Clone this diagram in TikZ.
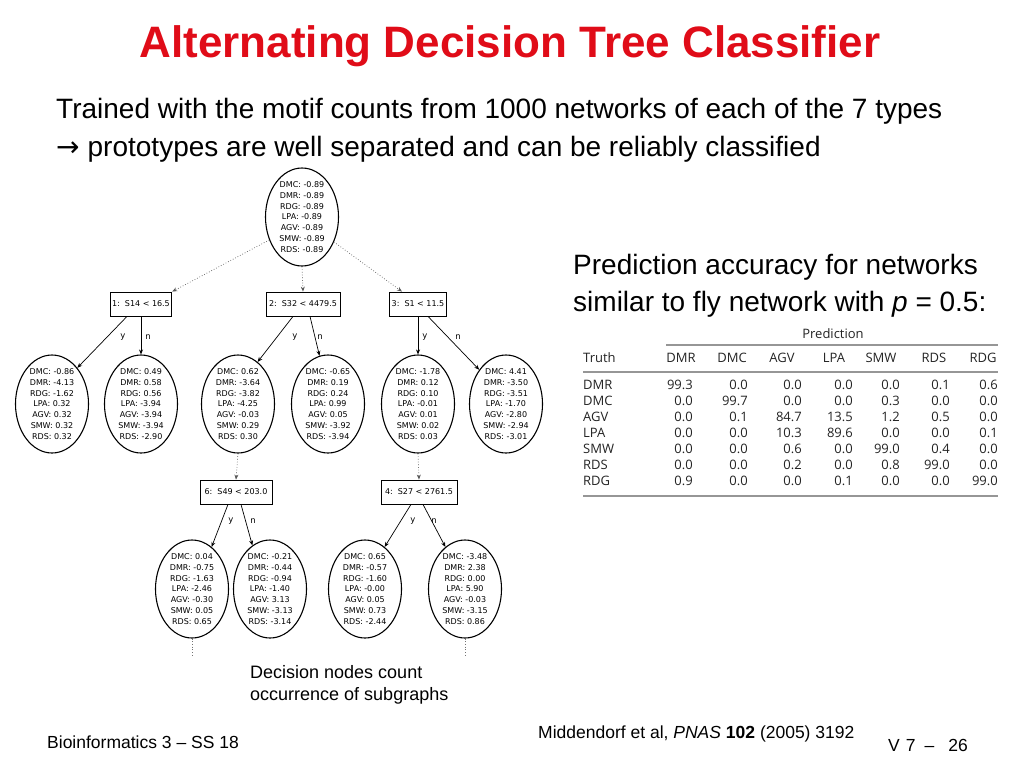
\documentclass[tikz,border=0pt]{standalone}
\usepackage{fontspec}
\setmainfont{Liberation Sans}
\newfontfamily\ellfont{DejaVu Sans}
\newfontfamily\arrfont{DejaVu Sans}
\newfontfamily\tabfont{Open Sans}
\usetikzlibrary{shapes.geometric,arrows.meta}
\definecolor{titlered}{RGB}{224,12,24}
\definecolor{tabgray}{RGB}{35,35,35}
\definecolor{rulegray}{RGB}{150,150,150}
\newcommand\ellvals[7]{DMC: #1\\DMR: #2\\RDG: #3\\LPA: #4\\AGV: #5\\SMW: #6\\RDS: #7}
\newcommand\tabrow[9]{%
  \node[tabtxt, anchor=base west] (row#2) at (583,#1) {#2};
  \node[tabtxt, anchor=base east] (row#2a) at (693,#1) {#3};
  \node[tabtxt, anchor=base east] (row#2b) at (748,#1) {#4};
  \node[tabtxt, anchor=base east] (row#2c) at (802,#1) {#5};
  \node[tabtxt, anchor=base east] (row#2d) at (853,#1) {#6};
  \node[tabtxt, anchor=base east] (row#2e) at (900,#1) {#7};
  \node[tabtxt, anchor=base east] (row#2f) at (950,#1) {#8};
  \node[tabtxt, anchor=base east] (row#2g) at (998,#1) {#9};}
\begin{document}
\begin{tikzpicture}[x=1pt,y=-1pt,
  titletxt/.style={font=\bfseries\fontsize{44}{50}\selectfont, text=titlered, inner sep=0pt, anchor=base},
  bodytxt/.style={font=\fontsize{28}{34}\selectfont, inner sep=0pt, anchor=base west},
  smalltxt/.style={font=\fontsize{18}{22}\selectfont, inner sep=0pt, anchor=base west},
  foottxt/.style={font=\fontsize{17.5}{20}\selectfont, inner sep=0pt, anchor=base west},
  ell/.style={draw, ellipse, line width=1.1pt, minimum width=73pt, minimum height=98pt, inner sep=0pt},
  elltxt/.style={font=\ellfont\fontsize{8}{10.8}\selectfont, align=center, inner sep=0pt},
  dbox/.style={draw, line width=0.8pt, minimum height=24pt, inner xsep=2pt, inner ysep=0pt, font=\ellfont\fontsize{8}{10}\selectfont},
  edge/.style={line width=0.7pt, -{Stealth[length=5pt,width=4pt]}},
  dotedge/.style={edge, dotted, draw=black!65},
  stub/.style={dotted, line width=0.7pt, draw=black!55},
  lbl/.style={font=\ellfont\fontsize{8.5}{10}\selectfont, inner sep=0pt},
  tabtxt/.style={font=\tabfont\fontsize{13}{15}\selectfont, text=tabgray, inner sep=0pt},
  tabrule/.style={draw=rulegray, line width=1.8pt}]
\useasboundingbox (0,0) rectangle (1024,768);

% title and text
\node[titletxt] (title) at (510,58) {Alternating Decision Tree Classifier};
\node[bodytxt] (line1) at (56,118) {Trained with the motif counts from 1000 networks of each of the 7 types};
\node[bodytxt] (line2) at (56,156) {{\arrfont →}\hspace{8pt}prototypes are well separated and can be reliably classified};
\node[bodytxt] (pred1) at (573,274) {Prediction accuracy for networks};
\node[bodytxt] (pred2) at (573,311) {similar to fly network with \textit{p} = 0.5:};
\node[smalltxt] (dec1) at (250,678) {Decision nodes count};
\node[smalltxt] (dec2) at (250,700) {occurrence of subgraphs};
\node[foottxt] (foot1) at (47,748) {Bioinformatics 3 – SS 18};
\node[foottxt] (foot2) at (538,738) {Middendorf et al, \textit{PNAS} \textbf{102} (2005) 3192};
\node[foottxt] (foot3) at (888,751) {V\hspace{6pt}7\hspace{9pt}–\hspace{14pt}26};

% tree: root
\node[ell] (T) at (302,217) {};
\node[elltxt] (Tt) at (T) {\ellvals{-0.89}{-0.89}{-0.89}{-0.89}{-0.89}{-0.89}{-0.89}};

% decision nodes level 1
\node[dbox, minimum width=58pt] (b1) at (141,304) {1:\hspace{5pt}S14 < 16.5};
\node[dbox, minimum width=74pt] (b2) at (303,304) {2:\hspace{5pt}S32 < 4479.5};
\node[dbox, minimum width=56pt] (b3) at (418,304) {3:\hspace{5pt}S1 < 11.5};

% prediction ellipses level 1
\node[ell] (E1) at (52,404) {};
\node[elltxt] (E1t) at (E1) {\ellvals{-0.86}{-4.13}{-1.62}{0.32}{0.32}{0.32}{0.32}};
\node[ell] (E2) at (141,404) {};
\node[elltxt] (E2t) at (E2) {\ellvals{0.49}{0.58}{0.56}{-3.94}{-3.94}{-3.94}{-2.90}};
\node[ell] (E3) at (238,404) {};
\node[elltxt] (E3t) at (E3) {\ellvals{0.62}{-3.64}{-3.82}{-4.25}{-0.03}{0.29}{0.30}};
\node[ell] (E4) at (328,404) {};
\node[elltxt] (E4t) at (E4) {\ellvals{-0.65}{0.19}{0.24}{0.99}{0.05}{-3.92}{-3.94}};
\node[ell] (E5) at (418,404) {};
\node[elltxt] (E5t) at (E5) {\ellvals{-1.78}{0.12}{0.10}{-0.01}{0.01}{0.02}{0.03}};
\node[ell] (E6) at (506,404) {};
\node[elltxt] (E6t) at (E6) {\ellvals{4.41}{-3.50}{-3.51}{-1.70}{-2.80}{-2.94}{-3.01}};

% decision nodes level 2
\node[dbox, minimum width=72pt] (b6) at (236,492) {6:\hspace{5pt}S49 < 203.0};
\node[dbox, minimum width=76pt] (b4) at (419,492) {4:\hspace{5pt}S27 < 2761.5};

% prediction ellipses level 2
\node[ell] (F1) at (192,589) {};
\node[elltxt] (F1t) at (F1) {\ellvals{0.04}{-0.75}{-1.63}{-2.46}{-0.30}{0.05}{0.65}};
\node[ell] (F2) at (270,589) {};
\node[elltxt] (F2t) at (F2) {\ellvals{-0.21}{-0.44}{-0.94}{-1.40}{3.13}{-3.13}{-3.14}};
\node[ell] (F3) at (365,589) {};
\node[elltxt] (F3t) at (F3) {\ellvals{0.65}{-0.57}{-1.60}{-0.00}{0.05}{0.73}{-2.44}};
\node[ell] (F4) at (465,589) {};
\node[elltxt] (F4t) at (F4) {\ellvals{-3.48}{2.38}{0.00}{5.90}{-0.03}{-3.15}{0.86}};

% dotted connectors
\draw[dotedge] (T.215) -- (b1.north east);
\draw[dotedge] (T.south) -- (b2.north);
\draw[dotedge] (T.322) -- ([xshift=-16pt]b3.north);
\draw[dotedge] (E3.south) -- (b6.north);
\draw[dotedge] (E5.south) -- (b4.north);
\coordinate (s1) at (192,656);
\coordinate (s2) at (465,656);
\draw[stub] (F1.south) -- (s1);
\draw[stub] (F4.south) -- (s2);

% solid connectors
\draw[edge] ([xshift=-14pt]b1.south) -- (E1.55);
\draw[edge] (b1.south) -- (E2.north);
\draw[edge] ([xshift=-10pt]b2.south) -- (E3.65);
\draw[edge] ([xshift=7pt]b2.south) -- (E4.100);
\draw[edge] (b3.south) -- (E5.north);
\draw[edge] ([xshift=10pt]b3.south) -- (E6.128);
\draw[edge] ([xshift=-8pt]b6.south) -- (F1.65);
\draw[edge] ([xshift=5pt]b6.south) -- (F2.112);
\draw[edge] ([xshift=-8pt]b4.south) -- (F3.65);
\draw[edge] ([xshift=4pt]b4.south) -- (F4.115);

% y/n labels
\node[lbl] (y1) at (123,337) {y};
\node[lbl] (n1) at (148,337) {n};
\node[lbl] (y2) at (295,337) {y};
\node[lbl] (n2) at (320,337) {n};
\node[lbl] (y3) at (425,337) {y};
\node[lbl] (n3) at (458,337) {n};
\node[lbl] (y6) at (231,521) {y};
\node[lbl] (n6) at (253,521) {n};
\node[lbl] (y4) at (413,521) {y};
\node[lbl] (n4) at (434,521) {n};

% table
\node[tabtxt, anchor=base] (predh) at (833,338) {Prediction};
\draw[draw=rulegray, line width=1.3pt] (666,345) -- (998,345);
\node[tabtxt, anchor=base west] (truth) at (583,362) {Truth};
\node[tabtxt, anchor=base] (hDMR) at (681,362) {DMR};
\node[tabtxt, anchor=base] (hDMC) at (732,362) {DMC};
\node[tabtxt, anchor=base] (hAGV) at (782,362) {AGV};
\node[tabtxt, anchor=base] (hLPA) at (834,362) {LPA};
\node[tabtxt, anchor=base] (hSMW) at (881,362) {SMW};
\node[tabtxt, anchor=base] (hRDS) at (934,362) {RDS};
\node[tabtxt, anchor=base] (hRDG) at (983,362) {RDG};
\draw[tabrule] (583,372) -- (998,372);
\tabrow{389}{DMR}{99.3}{0.0}{0.0}{0.0}{0.0}{0.1}{0.6}
\tabrow{405}{DMC}{0.0}{99.7}{0.0}{0.0}{0.3}{0.0}{0.0}
\tabrow{421.5}{AGV}{0.0}{0.1}{84.7}{13.5}{1.2}{0.5}{0.0}
\tabrow{437.5}{LPA}{0.0}{0.0}{10.3}{89.6}{0.0}{0.0}{0.1}
\tabrow{453.5}{SMW}{0.0}{0.0}{0.6}{0.0}{99.0}{0.4}{0.0}
\tabrow{469.5}{RDS}{0.0}{0.0}{0.2}{0.0}{0.8}{99.0}{0.0}
\tabrow{485.5}{RDG}{0.9}{0.0}{0.0}{0.1}{0.0}{0.0}{99.0}
\draw[tabrule] (583,496) -- (998,496);
\end{tikzpicture}
\end{document}
